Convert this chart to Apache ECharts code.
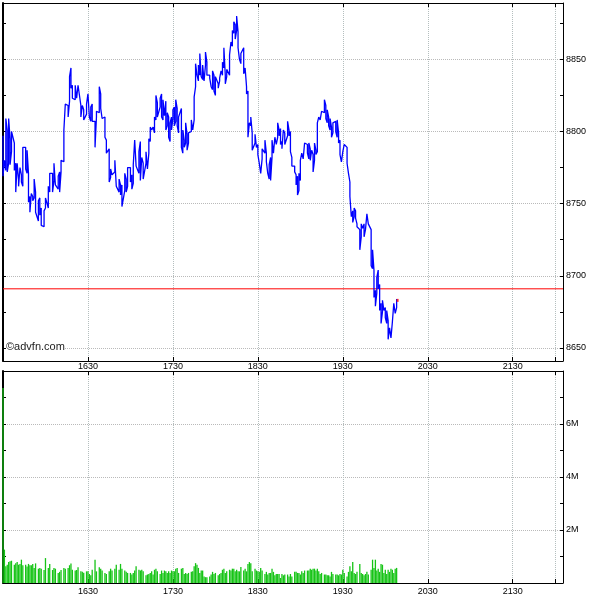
<!DOCTYPE html>
<html><head><meta charset="utf-8">
<script src="https://cdn.jsdelivr.net/npm/echarts@6/dist/echarts.min.js"></script>
<style>html,body{margin:0;padding:0;background:#fff}#c{width:600px;height:600px}</style>
</head><body><div id="c"></div>
<script>
// time in minutes since midnight (local exchange time)
const times = [930,931,932,933,934,935,936,938,939,940,941,942,943,944,946,947,948,949,950,951,952,953,955,956,957,959,960,962,963,965,966,967,969,970,971,973,974,976,977,978,979,981,982,983,985,986,987,989,990,991,992,993,995,996,998,999,1000,1002,1003,1005,1006,1007,1009,1010,1012,1013,1014,1016,1017,1018,1020,1021,1022,
1023,1024,1026,1027,1028,1029,1031,1032,1033,1034,1035,1036,1037,1038,1039,1041,1042,1043,1044,1045,1046,1047,1048,1049,1050,1051,1052,1053,1054,1056,1057,1058,1059,1060,1061,1063,1064,1065,1066,1067,1068,1069,1070,1071,1072,1073,1074,1076,1077,1078,1079,1080,1082,1083,1084,1085,1086,1087,1088,1090,1091,1092,1093,1094,1095,1096,1097,1098,1100,1101,1102,1103,1104,1105,1106,1108,1109,1110,1111,1112,1113,1115,1116,1117,1118,
1119,1120,1121,1122,1123,1124,1125,1126,1127,1128,1129,1131,1132,1133,1134,1136,1137,1138,1139,1140,1141,1142,1143,1145,1146,1147,1148,1149,1150,1151,1152,1153,1154,1155,1157,1158,1159,1160,1161,1162,1163,1165,1166,1167,1168,1169,1170,1171,1173,1174,1175,1176,1177,1178,1179,1180,1182,1183,1184,1185,1186,1187,1188,1190,1191,1192,1193,1194,1195,1196,1197,1198,1199,1200,1201,1202,1203,1204,1205,1206,1207,1208];
const highs = [8797,8780,8809,8801,8809,8795,8800,8792,8778,8778,8766,8775,8770,8789,8789,8787,8771,8755,8757,8755,8767,8758,8752,8754,8747,8745,8754,8762,8771,8771,8778,8778,8769,8772,8780,8801,8819,8818,8838,8844,8832,8832,8831,8832,8818,8818,8815,8819,8826,8825,8817,8819,8807,8814,8831,8826,8816,8810,8794,8788,8774,8773,8780,8779,8767,8763,8763,8771,8767,8775,8775,8770,8777,
8794,8793,8786,8793,8782,8778,8786,8787,8795,8803,8803,8803,8810,8825,8820,8823,8826,8822,8821,8821,8813,8810,8806,8810,8815,8817,8822,8816,8810,8816,8801,8794,8806,8798,8799,8808,8808,8824,8847,8847,8846,8854,8854,8846,8845,8855,8848,8839,8838,8842,8839,8838,8833,8837,8842,8848,8858,8839,8843,8853,8862,8870,8876,8874,8880,8869,8857,8854,8858,8844,8831,8828,8806,8810,8799,8798,8799,8791,8785,8778,8788,8794,8785,8780,8777,
8782,8794,8794,8796,8797,8806,8801,8802,8793,8801,8799,8807,8801,8800,8782,8776,8770,8769,8771,8780,8785,8786,8792,8791,8792,8788,8787,8784,8792,8787,8806,8810,8811,8814,8822,8818,8815,8810,8809,8803,8806,8807,8808,8799,8794,8785,8786,8791,8789,8778,8765,8755,8745,8747,8745,8736,8732,8736,8736,8736,8732,8743,8742,8732,8718,8704,8690,8699,8704,8694,8681,8683,8684,8678,8676,8669,8664,8663,8668,8681,8681,8684];
const lows = [8769,8770,8773,8772,8778,8777,8786,8773,8758,8759,8762,8762,8765,8762,8774,8771,8751,8744,8745,8752,8754,8744,8738,8742,8735,8734,8747,8747,8758,8758,8766,8763,8760,8758,8772,8779,8800,8810,8821,8830,8823,8822,8823,8822,8810,8809,8808,8812,8819,8810,8807,8807,8789,8810,8813,8816,8809,8796,8785,8765,8768,8770,8772,8762,8758,8756,8748,8759,8758,8762,8765,8760,8764,
8776,8776,8771,8766,8766,8767,8778,8774,8785,8793,8801,8801,8799,8808,8810,8817,8810,8808,8811,8801,8804,8796,8793,8801,8809,8804,8807,8804,8799,8789,8785,8789,8792,8787,8792,8800,8801,8808,8831,8839,8835,8839,8838,8836,8835,8846,8839,8837,8831,8829,8828,8825,8830,8835,8836,8839,8844,8833,8838,8839,8852,8859,8868,8864,8870,8858,8850,8847,8840,8839,8826,8796,8796,8804,8787,8792,8789,8784,8778,8771,8781,8785,8779,8771,8767,
8766,8782,8785,8786,8791,8796,8797,8791,8788,8789,8791,8797,8797,8786,8776,8772,8763,8756,8759,8766,8779,8781,8782,8785,8781,8780,8779,8772,8780,8784,8786,8806,8808,8809,8813,8809,8806,8804,8801,8796,8799,8800,8796,8792,8784,8779,8779,8787,8778,8771,8755,8741,8737,8741,8740,8734,8718,8727,8733,8727,8728,8732,8736,8707,8705,8685,8679,8688,8691,8676,8667,8675,8676,8671,8667,8656,8657,8657,8657,8669,8674,8678];
// volume in millions
const volumes = [7.36,1.26,0.63,0.69,0.79,0.82,0.84,0.69,0.75,0.79,0.69,0.72,0.88,0.67,0.69,0.62,0.72,0.67,0.67,0.72,0.57,0.74,0.54,0.57,0.54,0.49,0.94,0.57,0.72,0.49,0.57,0.54,0.38,0.42,0.49,0.57,0.54,0.57,0.67,0.74,0.50,0.47,0.49,0.59,0.44,0.42,0.39,0.44,0.44,0.34,0.29,0.50,0.88,0.44,0.59,0.54,0.47,0.38,0.34,0.44,0.54,0.47,0.54,0.69,0.50,0.72,0.54,0.47,0.42,0.38,0.38,0.32,0.38,
0.47,0.63,0.50,0.47,0.50,0.44,0.29,0.32,0.34,0.38,0.44,0.32,0.50,0.54,0.44,0.34,0.47,0.38,0.47,0.44,0.38,0.44,0.38,0.47,0.44,0.44,0.54,0.57,0.38,0.54,0.57,0.34,0.38,0.34,0.38,0.42,0.44,0.63,0.75,0.69,0.57,0.38,0.47,0.47,0.25,0.22,0.22,0.25,0.32,0.42,0.34,0.38,0.29,0.34,0.38,0.50,0.54,0.38,0.44,0.50,0.47,0.54,0.54,0.44,0.50,0.44,0.44,0.60,0.47,0.54,0.44,0.72,0.79,0.75,0.44,0.54,0.47,0.44,0.42,0.57,0.47,0.34,0.42,0.32,0.38,
0.38,0.54,0.42,0.29,0.34,0.34,0.34,0.19,0.34,0.29,0.32,0.32,0.25,0.34,0.25,0.42,0.42,0.38,0.38,0.32,0.44,0.38,0.47,0.47,0.47,0.54,0.50,0.54,0.54,0.47,0.54,0.44,0.34,0.38,0.32,0.32,0.29,0.29,0.25,0.42,0.34,0.32,0.32,0.29,0.34,0.32,0.50,0.38,0.25,0.42,0.63,0.44,0.79,0.38,0.34,0.42,0.72,0.38,0.34,0.29,0.34,0.42,0.32,0.50,0.88,0.57,0.88,0.47,0.54,0.42,0.72,0.69,0.38,0.50,0.34,0.50,0.42,0.54,0.50,0.38,0.54,0.57];
const prevClose = 8691;
const lastTime = 1208.7;
const lastPrice = 8683;
const xLabelTimes = [990,1050,1110,1170,1230,1290];
const xGridTimes = [990,1050,1110,1170,1230,1290,1320];
const priceLabels = [8650,8700,8750,8800,8850];
const priceMinorTicks = [8650,8675,8700,8725,8750,8775,8800,8825,8850,8875];
const volLabelUnit = 'M';

const FONT = 'Liberation Sans, Arial, sans-serif';
const fmtTime = v => String(Math.floor(v/60)*100 + Math.round(v%60));

const pts = [];
let prev = null;
for (let i = 0; i < times.length; i++) {
  let a = highs[i], b = lows[i];
  if (prev !== null && Math.abs(prev - b) < Math.abs(prev - a)) { const s = a; a = b; b = s; }
  pts.push([times[i], a], [times[i], b]);
  prev = b;
}
const volData = times.map((t, i) => [t, volumes[i]]);

const gridV = {color: '#b4bebe', type: [1, 1], width: 1};
const gridH = {color: '#bababa', type: [1, 1], width: 1};
const X0 = 930, X1 = 1325.5;
const P0 = 8641, P1 = 8889;
const refLine = [[X0, prevClose], [X1, prevClose]];

function xAxes(gi, withLabels, margin) {
  return [
    {gridIndex: gi, type: 'value', min: X0, max: X1, position: 'bottom',
     axisLine: {show: true, onZero: false, lineStyle: {color: '#000', width: 1}},
     axisTick: {show: true, inside: true, length: 4, customValues: xGridTimes, lineStyle: {color: '#000'}},
     axisLabel: {show: withLabels, customValues: xLabelTimes, formatter: fmtTime, margin: margin, fontSize: 9, color: '#000', fontFamily: FONT},
     splitLine: {show: true, lineStyle: gridV}},
    {gridIndex: gi, type: 'value', min: X0, max: X1, position: 'top',
     axisLine: {show: true, onZero: false, lineStyle: {color: '#000', width: 1}},
     axisTick: {show: true, inside: true, length: 4, customValues: xGridTimes, lineStyle: {color: '#000'}},
     axisLabel: {show: false}, splitLine: {show: false}}
  ];
}

const option = {
  animation: false,
  backgroundColor: '#fff',
  grid: [
    {left: 3, top: 3, width: 560, height: 358, show: false},
    {left: 3, top: 371, width: 560, height: 212, show: false}
  ],
  xAxis: [...xAxes(0, true, 1), ...xAxes(1, true, 4)],
  yAxis: [
    {gridIndex: 0, type: 'value', min: P0, max: P1, position: 'right',
     axisLine: {show: true, lineStyle: {color: '#000', width: 1}},
     axisTick: {show: false, customValues: priceLabels},
     axisLabel: {customValues: priceLabels, formatter: v => String(v), margin: 3, fontSize: 9, color: '#000', fontFamily: FONT},
     splitLine: {show: true, lineStyle: gridH}},
    {gridIndex: 0, type: 'value', min: P0, max: P1, position: 'left',
     axisLine: {show: true, lineStyle: {color: '#000', width: 2}},
     axisTick: {show: true, inside: true, length: 3, customValues: priceMinorTicks, lineStyle: {color: '#000'}},
     axisLabel: {show: false}, splitLine: {show: false}},
    {gridIndex: 0, type: 'value', min: P0, max: P1, position: 'right',
     axisLine: {show: false},
     axisTick: {show: true, inside: true, length: 3, customValues: priceMinorTicks, lineStyle: {color: '#000'}},
     axisLabel: {show: false}, splitLine: {show: false}},
    {gridIndex: 1, type: 'value', min: 0, max: 8, interval: 2, position: 'right',
     axisLine: {show: true, lineStyle: {color: '#000', width: 1}},
     axisTick: {show: true, inside: true, length: 3, lineStyle: {color: '#000'}},
     minorTick: {show: true, splitNumber: 2, length: 3, lineStyle: {color: '#000'}},
     axisLabel: {showMinLabel: false, showMaxLabel: false, formatter: v => v + volLabelUnit, margin: 3, fontSize: 9, color: '#000', fontFamily: FONT},
     splitLine: {show: true, lineStyle: gridH}},
    {gridIndex: 1, type: 'value', min: 0, max: 8, interval: 2, position: 'left',
     axisLine: {show: true, lineStyle: {color: '#000', width: 2}},
     axisTick: {show: true, inside: true, length: 3, lineStyle: {color: '#000'}},
     minorTick: {show: true, splitNumber: 2, length: 3, lineStyle: {color: '#000'}},
     axisLabel: {show: false}, splitLine: {show: false}}
  ],
  graphic: [{type: 'text', left: 6, top: 341, z: 100,
    style: {text: '©advfn.com', font: '11px ' + FONT, fill: '#222', backgroundColor: '#fff'}}],
  series: [
    {type: 'line', xAxisIndex: 0, yAxisIndex: 0, data: refLine, showSymbol: false, symbol: 'none', silent: true,
     lineStyle: {color: '#ff0000', width: 1}, itemStyle: {color: '#ff0000'}, z: 4},
    {type: 'line', xAxisIndex: 0, yAxisIndex: 0, data: pts, showSymbol: false, symbol: 'none',
     lineStyle: {color: '#0000ff', width: 1.3}, itemStyle: {color: '#0000ff'}, z: 5},
    {type: 'scatter', xAxisIndex: 0, yAxisIndex: 0, data: [[lastTime, lastPrice]], symbol: 'rect', symbolSize: [2, 3],
     itemStyle: {color: '#ff0000'}, z: 6},
    {type: 'bar', xAxisIndex: 2, yAxisIndex: 3, data: volData, barWidth: 1.3,
     itemStyle: {color: '#16c416'}}
  ]
};
const chart = echarts.init(document.getElementById('c'), null, {renderer: 'canvas'});
chart.setOption(option);
</script></body></html>
